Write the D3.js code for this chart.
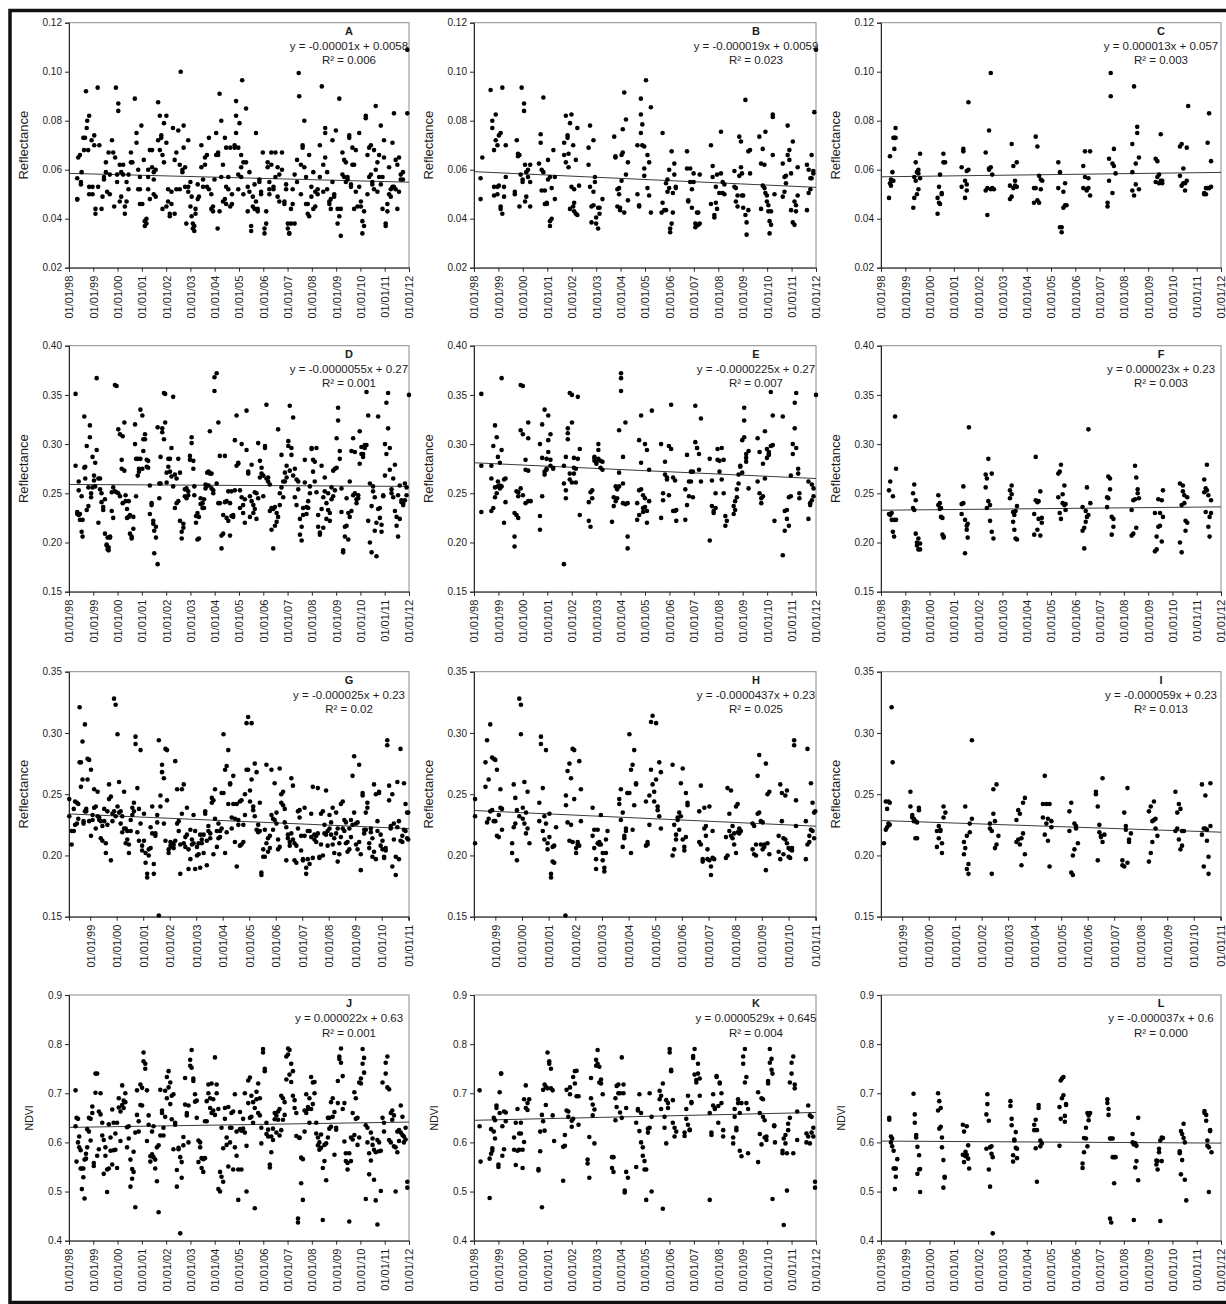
<!DOCTYPE html>
<html lang="en">
<head>
<meta charset="utf-8" />
<title>Reflectance and NDVI time series</title>
<script src="https://cdn.jsdelivr.net/npm/d3@7"></script>
<style>
body { margin: 0; background: #fff; }
svg text { font-family: "Liberation Sans", Arial, sans-serif; fill: #1c1c1c; }
</style>
</head>
<body>
<div id="chart"></div>
<script>
// ---- data: [years since 01/01/98, [values at that date]] ----
const ptsA = [[.34,[.048,.0478,.0565]],[.38,[.065]],[.45,[.066]],[.49,[.055,.054]],[.52,[.059]],[.59,[.073]],[.62,[.068]],[.66,[.073]],[.70,[.092]],[.73,[.077]],[.75,[.080]],[.79,[.068]],[.83,[.082,.053,.050]],[.93,[.072]],[.97,[.053,.050]],[1.04,[.074,.070]],[1.09,[.044,.042]],[1.18,[.0935]],[1.20,[.053]],[1.25,[.070]],[1.34,[.044]],[1.38,[.049]],[1.44,[.057,.056]],[1.52,[.063,.059]],[1.57,[.051]],[1.63,[.067]],[1.68,[.050,.058]],[1.77,[.072]],[1.82,[.067]],[1.86,[.045]],[1.90,[.065]],[1.93,[.0935]],[1.98,[.055,.058]],[2.03,[.087,.084]],[2.09,[.062,.047]],[2.15,[.059,.049]],[2.23,[.062,.058]],[2.30,[.045,.042]],[2.37,[.047,.055]],[2.45,[.052,.058]],[2.55,[.067,.063]],[2.61,[.063]],[2.71,[.089]],[2.78,[.075,.071]],[2.85,[.060,.052]],[2.92,[.057,.046,.052]],[2.98,[.078]],[3.02,[.046]],[3.08,[.064]],[3.12,[.039,.037]],[3.19,[.038,.040]],[3.26,[.057,.052,.060]],[3.33,[.068,.048]],[3.42,[.068,.061]],[3.49,[.059,.050,.056]],[3.57,[.060,.049]],[3.67,[.0875,.072]],[3.74,[.082,.068]],[3.80,[.073,.074]],[3.85,[.066,.044]],[3.91,[.079,.063]],[4.01,[.082,.071,.045]],[4.08,[.052,.047]],[4.15,[.042,.041]],[4.22,[.046,.051]],[4.28,[.077]],[4.35,[.064,.042]],[4.42,[.052,.067]],[4.50,[.076]],[4.56,[.062,.052]],[4.60,[.100]],[4.67,[.060,.059]],[4.72,[.069,.078]],[4.78,[.053,.061]],[4.83,[.038]],[4.91,[.072,.053,.051]],[5.00,[.045,.055]],[5.05,[.049,.041]],[5.10,[.038,.036]],[5.16,[.035,.037]],[5.21,[.042,.044]],[5.30,[.048,.054]],[5.35,[.049]],[5.45,[.070,.061]],[5.52,[.053,.056]],[5.60,[.065,.062]],[5.68,[.066,.053]],[5.76,[.073,.052]],[5.86,[.050,.044]],[5.93,[.043,.045]],[5.99,[.056]],[6.06,[.075,.066]],[6.12,[.036]],[6.14,[.067,.066]],[6.20,[.091,.043]],[6.27,[.080,.057]],[6.34,[.047,.062]],[6.42,[.073,.048]],[6.47,[.069,.053,.046]],[6.56,[.057,.052]],[6.64,[.069,.045]],[6.71,[.050,.046]],[6.82,[.070,.069]],[6.88,[.075,.082,.088]],[6.97,[.069,.058,.052]],[7.02,[.079]],[7.09,[.066,.061,.057]],[7.13,[.0965]],[7.18,[.050,.063]],[7.29,[.085,.063]],[7.36,[.053,.043]],[7.43,[.059,.051]],[7.50,[.037,.035]],[7.57,[.045,.049]],[7.64,[.054,.044]],[7.70,[.075,.047]],[7.77,[.043,.044]],[7.84,[.055,.056]],[7.91,[.051,.050]],[7.98,[.067]],[8.05,[.036,.034]],[8.12,[.043,.038]],[8.18,[.061,.063]],[8.25,[.052,.050,.055]],[8.33,[.067,.062]],[8.42,[.053,.052]],[8.50,[.067,.057]],[8.59,[.061,.049]],[8.66,[.058,.047]],[8.77,[.067,.060]],[8.87,[.047,.046]],[8.94,[.054,.052]],[9.01,[.036,.038]],[9.07,[.034,.034]],[9.14,[.044,.038]],[9.21,[.046,.052]],[9.29,[.038,.058]],[9.39,[.055,.064]],[9.46,[.0995]],[9.48,[.090]],[9.55,[.062,.050]],[9.62,[.069,.070]],[9.69,[.080,.061]],[9.76,[.057,.046]],[9.83,[.042,.046]],[9.89,[.041,.066]],[9.98,[.053,.049]],[10.06,[.044,.059]],[10.14,[.045,.051]],[10.24,[.052,.050]],[10.33,[.070,.057]],[10.41,[.094]],[10.47,[.062,.051]],[10.55,[.075,.077,.065]],[10.63,[.059,.052]],[10.72,[.047,.046]],[10.78,[.044,.048]],[10.85,[.072,.055]],[10.92,[.050,.049]],[10.99,[.076]],[11.06,[.044,.038]],[11.13,[.089,.041]],[11.19,[.033,.044]],[11.26,[.067,.058]],[11.33,[.057,.064]],[11.40,[.063,.055]],[11.47,[.056,.057]],[11.54,[.074,.073]],[11.61,[.053,.054]],[11.67,[.062,.069]],[11.74,[.044,.062]],[11.81,[.068,.051]],[11.88,[.045]],[11.95,[.075,.053]],[12.02,[.047,.045]],[12.08,[.039,.034]],[12.15,[.043,.037]],[12.22,[.081,.082]],[12.29,[.066,.050]],[12.36,[.069,.057]],[12.43,[.058,.070]],[12.49,[.055,.054]],[12.56,[.068,.052]],[12.63,[.086,.060]],[12.70,[.051,.063]],[12.77,[.057,.066]],[12.84,[.078,.054]],[12.91,[.044,.057]],[12.97,[.072,.065]],[13.04,[.038,.037]],[13.11,[.046,.043]],[13.18,[.061,.050]],[13.25,[.049,.052]],[13.32,[.071,.053]],[13.38,[.053,.083]],[13.45,[.064,.052]],[13.52,[.062,.044]],[13.59,[.051,.065]],[13.66,[.058,.056]],[13.75,[.059,.056]],[13.93,[.109,.083]]];

const ptsB = [[.27,[.048,.0565]],[.34,[.065]],[.68,[.0925]],[.75,[.077,.080]],[.82,[.068,.053,.0495]],[.89,[.0825,.072]],[.96,[.050,.053,.070]],[1.02,[.0535,.074]],[1.09,[.075,.045,.044]],[1.16,[.0935,.042]],[1.23,[.053,.049]],[1.30,[.070,.057]],[1.67,[.051,.050]],[1.75,[.072]],[1.80,[.0665,.0655]],[1.86,[.045,.066]],[1.91,[.058]],[1.95,[.0935]],[1.99,[.055,.056]],[2.05,[.087,.084]],[2.09,[.062,.047]],[2.14,[.059,.049]],[2.21,[.060,.057]],[2.30,[.062,.055,.045]],[2.66,[.0625]],[2.73,[.0745,.071]],[2.77,[.060,.0515]],[2.84,[.0895,.059]],[2.90,[.0515,.046]],[2.98,[.0465,.046]],[3.03,[.064,.056]],[3.11,[.039,.037,.057]],[3.18,[.040,.0525]],[3.25,[.068]],[3.31,[.048,.057]],[3.69,[.066,.071]],[3.76,[.082,.063]],[3.83,[.074,.073]],[3.87,[.0665,.061]],[3.93,[.079,.044]],[3.99,[.053,.0825]],[4.06,[.070,.045]],[4.10,[.0465,.052,.043]],[4.17,[.042,.064]],[4.23,[.0415,.077]],[4.30,[.0535]],[4.69,[.069,.062]],[4.75,[.078,.053]],[4.81,[.0385,.045]],[4.89,[.0455,.051,.072]],[4.95,[.055,.057]],[5.00,[.0405,.038]],[5.08,[.036,.0445]],[5.14,[.042,.0445]],[5.26,[.048]],[5.74,[.0735]],[5.79,[.065,.0655]],[5.87,[.052,.045]],[5.94,[.050,.0525]],[5.98,[.0435,.0445]],[6.04,[.0555,.066]],[6.09,[.0765,.067]],[6.15,[.0915,.0425]],[6.22,[.0805,.058]],[6.30,[.063,.0475]],[6.69,[.070,.050]],[6.76,[.0455,.045]],[6.83,[.0825,.075,.089]],[6.89,[.070,.0785]],[6.97,[.0695,.0575,.0605]],[7.04,[.0965]],[7.10,[.066,.0525]],[7.17,[.0495,.063]],[7.24,[.0425,.0855]],[7.68,[.0425]],[7.72,[.075,.0465]],[7.79,[.0435]],[7.86,[.0435,.0545]],[7.92,[.056,.051]],[7.99,[.0525,.060]],[8.03,[.0345,.036]],[8.09,[.0675,.038]],[8.14,[.0505,.0425]],[8.20,[.058,.0625]],[8.26,[.0525,.053]],[8.72,[.0605,.0675]],[8.77,[.0475,.047]],[8.85,[.0605,.055]],[8.92,[.0445,.052]],[8.99,[.055,.0585]],[9.06,[.038,.0365]],[9.13,[.0425,.0375]],[9.18,[.0375,.0425]],[9.24,[.038,.058]],[9.70,[.070,.046]],[9.77,[.0615,.057]],[9.84,[.0405,.0415]],[9.90,[.0465,.053]],[9.95,[.044,.058]],[10.04,[.0505]],[10.11,[.0755,.0585]],[10.18,[.0505,.055]],[10.25,[.054,.050]],[10.66,[.0595,.053]],[10.72,[.0525,.047]],[10.79,[.0495,.045]],[10.86,[.0735,.0575]],[10.93,[.0715,.061]],[10.97,[.0585,.0495]],[11.02,[.0495,.0445]],[11.11,[.0885,.0415]],[11.16,[.0335,.0385]],[11.23,[.0675,.0435]],[11.30,[.0585,.068]],[11.68,[.0735]],[11.75,[.0625,.044]],[11.82,[.0685,.0535]],[11.89,[.0525,.062]],[11.93,[.0755,.0505]],[11.99,[.0495,.047]],[12.05,[.0455,.043]],[12.10,[.039,.034]],[12.16,[.0375,.043]],[12.23,[.0815,.0825,.066]],[12.30,[.050]],[12.64,[.049,.0625]],[12.71,[.057,.051]],[12.77,[.0575,.0545]],[12.84,[.078,.066]],[12.91,[.068,.064]],[12.98,[.0585,.0435]],[13.05,[.0715,.0385]],[13.12,[.047,.0375]],[13.18,[.0455,.043]],[13.25,[.061,.0495]],[13.63,[.062,.0435]],[13.70,[.060,.0505]],[13.77,[.0565,.052]],[13.82,[.066,.0565]],[13.89,[.0595,.0585]],[13.93,[.0835]],[14.00,[.109]]];

const ptsC = [[.33,[.0485]],[.37,[.0545,.0655]],[.41,[.0535,.056]],[.47,[.059,.0555]],[.51,[.073,.0555]],[.55,[.0685,.073]],[.60,[.077,.073]],[1.33,[.0445]],[1.37,[.0485,.057]],[1.43,[.0555,.063]],[1.48,[.050,.059]],[1.54,[.0585,.052,.060]],[1.61,[.0665,.0565]],[2.33,[.042,.0485]],[2.39,[.0465,.053]],[2.43,[.058,.046]],[2.50,[.0505,.050]],[2.57,[.0665,.063]],[2.64,[.063]],[3.32,[.061,.053]],[3.39,[.0675,.0685]],[3.46,[.0555,.0485]],[3.53,[.0515,.0595,.054]],[3.60,[.060,.0875]],[4.31,[.067,.0515]],[4.38,[.0415,.0525]],[4.45,[.0605,.060,.076]],[4.52,[.061,.052,.0995]],[4.58,[.058,.0525]],[4.65,[.052]],[5.31,[.048,.0535]],[5.38,[.049,.0705]],[5.45,[.0615,.0525]],[5.52,[.0555,.0535]],[5.59,[.063,.053]],[6.30,[.0465,.0525]],[6.37,[.0735,.0525]],[6.44,[.0695,.0475]],[6.51,[.0465,.0575]],[6.58,[.052,.056]],[6.64,[.0555]],[7.30,[.0525,.063]],[7.37,[.0365,.059]],[7.44,[.0345,.0365]],[7.51,[.051,.0445]],[7.58,[.0545,.0455]],[7.64,[.0455]],[8.33,[.0615,.0525]],[8.40,[.0675,.057]],[8.47,[.0515,.052]],[8.54,[.0565,.0525]],[8.61,[.0675,.0495]],[9.33,[.0465,.045]],[9.39,[.0555,.0645]],[9.46,[.0995,.090]],[9.53,[.0505,.0625]],[9.59,[.0615,.0685]],[9.66,[.0585]],[10.35,[.0705,.0515,.059]],[10.42,[.0495,.094]],[10.49,[.0625,.054]],[10.55,[.075,.0775]],[10.62,[.065,.052]],[11.31,[.0645,.055]],[11.38,[.0635,.057]],[11.45,[.0545,.058]],[11.52,[.0555,.0745]],[11.58,[.0545,.0555]],[12.31,[.0695,.0575]],[12.38,[.0705,.0535]],[12.45,[.0605,.0545]],[12.52,[.0545,.0515]],[12.59,[.069,.0555]],[12.65,[.086]],[13.31,[.050,.0505]],[13.38,[.0525,.050]],[13.45,[.071,.0525]],[13.51,[.083,.0525]],[13.59,[.0635,.053]]];

const ptsD = [[.27,[.278,.351]],[.34,[.231,.229]],[.40,[.262,.253,.228]],[.45,[.229,.223]],[.52,[.247,.211]],[.56,[.206,.223]],[.63,[.328,.276]],[.67,[.265,.277]],[.73,[.298,.233]],[.80,[.256,.237]],[.86,[.319,.307]],[.91,[.246,.250]],[.97,[.287,.256]],[1.03,[.268,.263]],[1.08,[.257,.281]],[1.14,[.367,.294]],[1.21,[.220,.265]],[1.28,[.254,.265]],[1.34,[.250,.241]],[1.41,[.236,.233]],[1.48,[.244,.209]],[1.55,[.197,.198]],[1.59,[.193,.205]],[1.63,[.195,.192]],[1.69,[.205,.206]],[1.76,[.232,.251]],[1.82,[.225,.256]],[1.89,[.360,.252]],[1.96,[.359,.251]],[2.03,[.315,.250]],[2.10,[.310,.247]],[2.17,[.284,.275]],[2.21,[.308,.240]],[2.28,[.322,.273]],[2.33,[.242,.248]],[2.39,[.234,.225]],[2.46,[.226,.242]],[2.51,[.228,.209]],[2.58,[.206,.204]],[2.65,[.214,.226]],[2.72,[.300,.320]],[2.76,[.285,.247]],[2.83,[.268,.285]],[2.88,[.272,.275]],[2.94,[.335,.285]],[3.02,[.329,.275]],[3.06,[.293,.305]],[3.13,[.305,.310]],[3.20,[.284,.277]],[3.26,[.276,.283]],[3.33,[.258,.229]],[3.40,[.240,.238]],[3.47,[.219,.222]],[3.51,[.189,.212]],[3.58,[.205,.216]],[3.65,[.178,.317]],[3.72,[.260,.245]],[3.77,[.287,.260]],[3.84,[.312,.316]],[3.91,[.305,.352]],[3.96,[.351,.322]],[4.02,[.271,.261]],[4.09,[.277,.285]],[4.16,[.272,.285]],[4.22,[.267,.296]],[4.29,[.348,.257]],[4.36,[.269,.235]],[4.43,[.240,.265]],[4.50,[.285,.242]],[4.57,[.271,.222]],[4.64,[.211,.204]],[4.71,[.219,.215]],[4.77,[.254,.247]],[4.84,[.255,.245]],[4.91,[.252,.248]],[4.98,[.284,.288]],[5.05,[.307,.301]],[5.12,[.283,.275]],[5.16,[.257,.248]],[5.23,[.227,.220]],[5.29,[.230,.203]],[5.35,[.204,.226]],[5.42,[.245,.239]],[5.50,[.235,.240]],[5.56,[.244,.235]],[5.62,[.255,.259]],[5.69,[.258,.271]],[5.75,[.272,.258]],[5.80,[.313,.270]],[5.87,[.270,.255]],[5.94,[.253,.250]],[5.99,[.354,.368]],[6.08,[.372,.260]],[6.15,[.322,.240]],[6.21,[.240,.288]],[6.28,[.194,.207]],[6.35,[.209,.228]],[6.42,[.288,.241]],[6.49,[.242,.225]],[6.56,[.252,.222]],[6.63,[.207,.240]],[6.69,[.227,.252]],[6.76,[.226,.228]],[6.83,[.304,.253]],[6.90,[.329,.278]],[6.97,[.280,.281]],[7.04,[.235,.253]],[7.11,[.300,.246]],[7.17,[.230,.238]],[7.24,[.220,.244]],[7.31,[.334,.294]],[7.38,[.272,.270]],[7.45,[.226,.247]],[7.52,[.279,.242]],[7.59,[.238,.230]],[7.65,[.234,.251]],[7.72,[.224,.250]],[7.79,[.301,.245]],[7.86,[.283,.266]],[7.93,[.270,.276]],[8.00,[.268,.247]],[8.07,[.298,.296]],[8.13,[.340,.265]],[8.20,[.266,.262]],[8.27,[.259,.232]],[8.34,[.235,.213]],[8.41,[.234,.194]],[8.48,[.236,.217]],[8.55,[.221,.230]],[8.61,[.315,.226]],[8.68,[.250,.238]],[8.75,[.289,.256]],[8.82,[.262,.246]],[8.89,[.271,.262]],[8.96,[.266,.278]],[9.03,[.298,.303]],[9.09,[.339,.273]],[9.16,[.296,.289]],[9.23,[.327,.268]],[9.30,[.275,.246]],[9.37,[.264,.238]],[9.44,[.262,.254]],[9.51,[.208,.224]],[9.58,[.216,.202]],[9.64,[.228,.235]],[9.71,[.284,.261]],[9.78,[.229,.236]],[9.85,[.235,.242]],[9.92,[.257,.250]],[9.99,[.295,.296]],[10.05,[.284,.272]],[10.12,[.282,.262]],[10.19,[.296,.251]],[10.26,[.228,.216]],[10.33,[.208,.210]],[10.40,[.278,.234]],[10.47,[.215,.246]],[10.53,[.266,.252]],[10.60,[.224,.240]],[10.67,[.250,.233]],[10.74,[.230,.222]],[10.81,[.244,.256]],[10.88,[.273,.247]],[10.95,[.253,.275]],[11.02,[.306,.276]],[11.08,[.337,.324]],[11.15,[.285,.293]],[11.22,[.231,.255]],[11.29,[.192,.190]],[11.36,[.206,.216]],[11.43,[.217,.245]],[11.50,[.230,.203]],[11.56,[.226,.262]],[11.63,[.293,.232]],[11.70,[.306,.248]],[11.77,[.292,.250]],[11.84,[.244,.240]],[11.91,[.245,.248]],[11.97,[.313,.280]],[12.04,[.290,.297]],[12.11,[.290,.287]],[12.18,[.296,.299]],[12.25,[.353,.299]],[12.32,[.329,.222]],[12.39,[.260,.200]],[12.46,[.190,.237]],[12.52,[.257,.252]],[12.59,[.212,.246]],[12.66,[.220,.186]],[12.73,[.234,.328]],[12.80,[.225,.235]],[12.87,[.211,.218]],[12.94,[.247,.248]],[13.01,[.268,.300]],[13.07,[.342,.290]],[13.14,[.352,.316]],[13.21,[.296,.274]],[13.28,[.250,.254]],[13.35,[.246,.265]],[13.42,[.279,.232]],[13.49,[.217,.226]],[13.55,[.206,.248]],[13.62,[.258,.224]],[13.69,[.243,.241]],[13.76,[.240,.238]],[13.83,[.260,.243]],[13.90,[.248,.256]],[14.00,[.350]]];

const ptsE = [[.30,[.278,.351,.231]],[.71,[.265,.278,.232]],[.79,[.235,.298]],[.86,[.319,.256,.246]],[.93,[.307,.250]],[.98,[.287,.257,.262]],[1.06,[.255,.258,.281]],[1.13,[.367,.294,.257]],[1.23,[.220,.264]],[1.29,[.241,.265]],[1.66,[.196,.206,.230]],[1.74,[.228,.252]],[1.81,[.225,.247,.251]],[1.91,[.255,.360,.314]],[2.00,[.359,.310,.248]],[2.11,[.240,.284,.274]],[2.22,[.273,.322,.306,.242]],[2.32,[.242]],[2.70,[.213,.227,.300]],[2.79,[.320,.247,.286]],[2.89,[.272,.269,.335]],[2.97,[.285,.275,.274]],[3.04,[.329,.304,.292]],[3.13,[.310,.284,.278]],[3.24,[.276,.275]],[3.68,[.278,.260,.178]],[3.76,[.245,.253,.287]],[3.84,[.311,.316,.305]],[3.92,[.352,.270,.264]],[4.01,[.322,.350,.261]],[4.09,[.276,.286,.270]],[4.17,[.261,.275]],[4.25,[.285,.348]],[4.33,[.295,.228]],[4.70,[.241,.222]],[4.77,[.216,.251]],[4.84,[.245,.253]],[4.93,[.283,.286,.287]],[5.01,[.280,.282]],[5.09,[.294,.300,.285]],[5.18,[.276,.283]],[5.26,[.274,.282]],[5.65,[.221]],[5.72,[.246,.237]],[5.80,[.242,.257]],[5.86,[.254,.245]],[5.94,[.314,.271,.257]],[6.02,[.367,.354,.372]],[6.10,[.287,.260,.240]],[6.20,[.322,.239]],[6.29,[.206,.194,.240]],[6.68,[.240,.223]],[6.76,[.228,.253,.304]],[6.84,[.329,.254,.281]],[6.92,[.248,.235,.231]],[7.00,[.245,.300,.236]],[7.08,[.232,.220,.294]],[7.17,[.242,.274]],[7.28,[.334]],[7.66,[.300,.225]],[7.74,[.250,.243]],[7.82,[.282,.269]],[7.90,[.266,.264]],[7.98,[.248,.298]],[8.07,[.295,.340]],[8.15,[.232,.266]],[8.23,[.232,.263]],[8.28,[.222,.233]],[8.65,[.223,.254]],[8.72,[.289,.238]],[8.80,[.262,.247]],[8.88,[.262,.272]],[8.96,[.246,.272]],[9.06,[.339,.302]],[9.13,[.296,.296]],[9.21,[.290,.274]],[9.29,[.326,.262]],[9.65,[.202,.285]],[9.74,[.237,.263]],[9.81,[.232,.230]],[9.89,[.235,.250]],[9.97,[.295,.284]],[10.05,[.283,.272]],[10.14,[.264,.296]],[10.22,[.250,.284]],[10.29,[.227,.217]],[10.35,[.222]],[10.63,[.229,.237]],[10.69,[.242,.233]],[10.76,[.246,.254]],[10.83,[.260,.269]],[10.90,[.277,.278]],[10.98,[.271,.304]],[11.06,[.324,.307,.337]],[11.14,[.286,.282,.290]],[11.24,[.293,.255]],[11.61,[.306,.262]],[11.69,[.250,.292]],[11.76,[.240,.245]],[11.83,[.280,.247]],[11.91,[.313,.265]],[11.99,[.295,.286]],[12.07,[.292,.289,.290]],[12.15,[.298,.353]],[12.23,[.299,.329]],[12.30,[.222]],[12.64,[.187,.328]],[12.72,[.212,.232]],[12.81,[.224,.233]],[12.89,[.217,.246]],[12.97,[.268,.247]],[13.05,[.300,.290]],[13.13,[.342,.316]],[13.19,[.352,.296]],[13.27,[.270,.275]],[13.32,[.250,.245]],[13.69,[.262,.224]],[13.76,[.240,.238]],[13.83,[.243,.259]],[13.90,[.247,.255]],[14.00,[.350]]];

const ptsF = [[.33,[.253,.229]],[.38,[.262,.228]],[.44,[.230,.223]],[.49,[.247,.211]],[.54,[.206,.223]],[.58,[.328]],[.62,[.275,.223]],[1.32,[.250,.235]],[1.37,[.259,.233]],[1.43,[.243,.209]],[1.48,[.197,.200]],[1.54,[.204,.193]],[1.61,[.193,.199]],[2.36,[.248,.238]],[2.42,[.240,.234]],[2.47,[.226,.235]],[2.53,[.208,.225]],[2.58,[.205,.206]],[3.32,[.229,.239]],[3.39,[.257,.240]],[3.46,[.189,.223]],[3.53,[.213,.217]],[3.57,[.205,.219]],[3.62,[.317]],[4.31,[.256,.269]],[4.36,[.265,.235]],[4.42,[.285,.242]],[4.49,[.238,.222]],[4.56,[.270,.211]],[4.63,[.204]],[5.31,[.245,.253]],[5.38,[.258,.249]],[5.44,[.221,.231]],[5.49,[.228,.213]],[5.54,[.232,.204]],[5.60,[.237,.203]],[6.31,[.208,.229]],[6.37,[.287,.243]],[6.44,[.241,.213]],[6.49,[.224,.242]],[6.56,[.252,.207]],[6.62,[.225,.220]],[7.30,[.270,.246]],[7.36,[.230,.272]],[7.41,[.279,.224]],[7.48,[.249,.240]],[7.55,[.258,.238]],[7.60,[.233,.239]],[8.30,[.212,.236]],[8.37,[.194,.215]],[8.43,[.232,.221]],[8.48,[.226,.256]],[8.54,[.315,.228]],[8.62,[.240]],[9.31,[.246,.236]],[9.36,[.267,.245]],[9.43,[.265,.254]],[9.50,[.226,.208]],[9.57,[.224,.216]],[10.32,[.207,.233]],[10.39,[.209,.243]],[10.46,[.278,.244]],[10.51,[.215,.266]],[10.57,[.254,.250]],[10.62,[.245]],[11.28,[.230,.191]],[11.35,[.193,.206]],[11.42,[.216,.244]],[11.49,[.230,.217]],[11.56,[.201,.243]],[11.61,[.226,.253]],[12.31,[.260,.200]],[12.38,[.190,.238]],[12.43,[.258,.252]],[12.49,[.240,.248]],[12.54,[.222,.212]],[12.61,[.220,.246]],[13.31,[.264,.251]],[13.37,[.255,.231]],[13.42,[.279,.253]],[13.48,[.248,.216]],[13.53,[.226,.206]],[13.59,[.243,.230]]];

const ptsG = [[.21,[.246,.232]],[.30,[.209,.220]],[.38,[.220,.238]],[.43,[.244,.225]],[.50,[.243,.226]],[.55,[.242,.230]],[.60,[.321,.276]],[.65,[.276,.256]],[.71,[.293,.262]],[.75,[.228,.226]],[.80,[.307,.236]],[.85,[.236,.238]],[.90,[.279,.262]],[.96,[.278,.228]],[1.03,[.270,.216]],[1.09,[.229,.233]],[1.15,[.239,.254]],[1.21,[.240,.222]],[1.28,[.252,.232]],[1.34,[.229,.231]],[1.40,[.228,.214]],[1.46,[.212,.224]],[1.53,[.238,.228]],[1.59,[.202,.210]],[1.65,[.225,.236]],[1.71,[.258,.246]],[1.78,[.248,.196]],[1.84,[.228,.234]],[1.90,[.328,.236]],[1.96,[.323,.232]],[2.03,[.299,.240]],[2.09,[.260,.235]],[2.15,[.226,.236]],[2.21,[.219,.232]],[2.28,[.252,.222]],[2.34,[.210,.222]],[2.40,[.213,.220]],[2.46,[.202,.209]],[2.53,[.220,.229]],[2.59,[.239,.233]],[2.65,[.243,.236]],[2.71,[.297,.291]],[2.78,[.255,.219]],[2.84,[.238,.212]],[2.90,[.286,.226]],[2.96,[.204,.208]],[3.03,[.234,.212]],[3.09,[.194,.202]],[3.15,[.182,.185]],[3.21,[.205,.200]],[3.28,[.206,.223]],[3.34,[.240,.218]],[3.40,[.185,.193]],[3.46,[.216,.218]],[3.53,[.227,.233]],[3.59,[.294,.151]],[3.65,[.249,.240]],[3.71,[.268,.274]],[3.78,[.263,.226]],[3.84,[.287,.212]],[3.90,[.286,.245]],[3.96,[.202,.205]],[4.03,[.211,.208]],[4.09,[.207,.210]],[4.15,[.206,.209]],[4.21,[.277,.212]],[4.28,[.254,.226]],[4.34,[.220,.228]],[4.40,[.185,.209]],[4.46,[.254,.234]],[4.53,[.258,.210]],[4.59,[.207,.215]],[4.65,[.217,.239]],[4.71,[.205,.189]],[4.78,[.221,.197]],[4.84,[.213,.209]],[4.90,[.210,.233]],[4.96,[.220,.189]],[5.03,[.207,.200]],[5.09,[.201,.210]],[5.15,[.190,.217]],[5.21,[.210,.213]],[5.28,[.217,.202]],[5.34,[.234,.236]],[5.40,[.212,.192]],[5.46,[.224,.220]],[5.53,[.218,.214]],[5.59,[.247,.243]],[5.65,[.201,.245]],[5.71,[.254,.230]],[5.78,[.220,.207]],[5.84,[.226,.214]],[5.90,[.215,.220]],[5.96,[.222,.251]],[6.03,[.299,.251]],[6.09,[.270,.202]],[6.15,[.273,.219]],[6.21,[.286,.242]],[6.28,[.258,.259]],[6.34,[.231,.222]],[6.40,[.265,.242]],[6.46,[.211,.230]],[6.53,[.242,.191]],[6.59,[.229,.225]],[6.65,[.208,.244]],[6.71,[.209,.245]],[6.78,[.211,.225]],[6.84,[.250,.233]],[6.90,[.270,.308]],[6.96,[.313,.270]],[7.03,[.253,.244]],[7.09,[.308,.262]],[7.15,[.237,.240]],[7.21,[.275,.232]],[7.28,[.268,.221]],[7.34,[.219,.225]],[7.40,[.243,.220]],[7.46,[.186,.184]],[7.53,[.199,.205]],[7.59,[.199,.221]],[7.65,[.274,.210]],[7.71,[.203,.214]],[7.78,[.216,.206]],[7.84,[.270,.233]],[7.90,[.230,.221]],[7.96,[.259,.229]],[8.03,[.235,.226]],[8.09,[.213,.205]],[8.15,[.271,.207]],[8.21,[.243,.250]],[8.28,[.252,.241]],[8.34,[.238,.227]],[8.40,[.196,.223]],[8.46,[.217,.214]],[8.53,[.211,.208]],[8.59,[.263,.218]],[8.65,[.257,.213]],[8.71,[.196,.210]],[8.78,[.194,.208]],[8.84,[.236,.222]],[8.90,[.237,.231]],[8.96,[.204,.216]],[9.03,[.196,.197]],[9.09,[.239,.216]],[9.15,[.185,.190]],[9.21,[.220,.197]],[9.28,[.220,.193]],[9.34,[.234,.215]],[9.40,[.256,.198]],[9.46,[.217,.213]],[9.53,[.211,.216]],[9.59,[.255,.218]],[9.65,[.199,.198]],[9.71,[.234,.209]],[9.78,[.236,.200]],[9.84,[.218,.225]],[9.90,[.253,.217]],[9.96,[.208,.220]],[10.03,[.233,.222]],[10.09,[.217,.227]],[10.15,[.239,.209]],[10.21,[.202,.214]],[10.28,[.235,.218]],[10.34,[.195,.222]],[10.40,[.210,.201]],[10.46,[.242,.215]],[10.53,[.244,.222]],[10.59,[.229,.220]],[10.65,[.210,.227]],[10.71,[.203,.211]],[10.78,[.222,.205]],[10.84,[.229,.215]],[10.90,[.265,.225]],[10.96,[.281,.235]],[11.03,[.226,.209]],[11.09,[.227,.205]],[11.15,[.274,.211]],[11.21,[.201,.188]],[11.28,[.251,.249]],[11.34,[.218,.221]],[11.40,[.235,.221]],[11.46,[.243,.239]],[11.53,[.206,.210]],[11.59,[.222,.219]],[11.65,[.199,.214]],[11.71,[.258,.203]],[11.78,[.250,.197]],[11.84,[.228,.220]],[11.90,[.252,.251]],[11.96,[.217,.208]],[12.03,[.212,.205]],[12.09,[.199,.198]],[12.15,[.206,.204]],[12.21,[.294,.290]],[12.28,[.245,.257]],[12.34,[.224,.222]],[12.40,[.191,.250]],[12.46,[.213,.226]],[12.53,[.184,.199]],[12.59,[.260,.223]],[12.65,[.228,.197]],[12.71,[.287,.212]],[12.78,[.211,.216]],[12.84,[.259,.221]],[12.90,[.242,.220]],[12.96,[.235,.214]],[13.00,[.235,.213]]];

const ptsH = [[.24,[.246,.232,.210]],[.63,[.256,.276]],[.69,[.294,.227]],[.75,[.262,.230]],[.81,[.307,.236]],[.88,[.280,.237]],[.94,[.279,.228]],[1.00,[.278,.228]],[1.06,[.270,.216]],[1.13,[.233,.215]],[1.19,[.239,.254]],[1.25,[.238,.221]],[1.63,[.202,.210]],[1.69,[.258,.223]],[1.75,[.247,.226]],[1.81,[.196,.237]],[1.90,[.328,.232]],[1.96,[.323,.299]],[2.03,[.239,.230]],[2.09,[.260,.226]],[2.15,[.218,.235]],[2.21,[.252,.222]],[2.28,[.210]],[2.65,[.243,.228]],[2.71,[.297,.291]],[2.78,[.255,.220]],[2.84,[.232,.213]],[2.90,[.286,.226]],[2.96,[.205,.210]],[3.03,[.234,.215]],[3.09,[.185,.182]],[3.15,[.195,.207]],[3.21,[.208,.194]],[3.28,[.223]],[3.63,[.151]],[3.65,[.249,.241]],[3.71,[.269,.227]],[3.78,[.275,.212]],[3.84,[.263,.225]],[3.90,[.287,.211]],[3.96,[.286,.246]],[4.03,[.202,.206]],[4.09,[.211,.209]],[4.15,[.277,.208]],[4.21,[.254,.228]],[4.65,[.239,.216]],[4.71,[.221,.206]],[4.78,[.197,.189]],[4.84,[.210,.221]],[4.90,[.209,.211]],[4.96,[.233,.209]],[5.03,[.202,.196]],[5.09,[.190,.187]],[5.15,[.202,.213]],[5.21,[.220]],[5.65,[.246,.242]],[5.71,[.254,.229]],[5.78,[.235,.207]],[5.84,[.216,.214]],[5.90,[.220,.222]],[5.96,[.251,.251]],[6.03,[.299,.251]],[6.09,[.270,.202]],[6.15,[.274,.221]],[6.21,[.286,.241]],[6.28,[.258,.259]],[6.65,[.244,.208]],[6.71,[.211,.209]],[6.78,[.249,.225]],[6.84,[.270,.309]],[6.90,[.314,.258]],[6.96,[.252,.244]],[7.03,[.308,.262]],[7.09,[.237,.240]],[7.15,[.276,.232]],[7.21,[.268,.222]],[7.65,[.274,.200]],[7.71,[.205,.225]],[7.78,[.217,.213]],[7.84,[.231,.229]],[7.90,[.235,.221]],[7.96,[.259,.232]],[8.03,[.271,.213]],[8.09,[.204,.207]],[8.15,[.251,.215]],[8.21,[.241,.243]],[8.65,[.236,.211]],[8.71,[.257,.209]],[8.78,[.197,.195]],[8.84,[.239,.222]],[8.90,[.224,.216]],[8.96,[.205,.197]],[9.03,[.240,.196]],[9.09,[.184,.191]],[9.15,[.220,.198]],[9.21,[.197]],[9.65,[.215,.198]],[9.71,[.255,.200]],[9.78,[.234,.220]],[9.84,[.253,.216]],[9.90,[.214,.224]],[9.96,[.209,.218]],[10.03,[.240,.202]],[10.09,[.242,.219]],[10.15,[.222,.218]],[10.21,[.220]],[10.65,[.226,.205]],[10.71,[.224,.201]],[10.78,[.209,.200]],[10.84,[.265,.234]],[10.90,[.282,.235]],[10.96,[.228,.209]],[11.03,[.227,.205]],[11.09,[.209,.207]],[11.15,[.275,.188]],[11.21,[.250,.210]],[11.28,[.252,.201]],[11.63,[.216,.203]],[11.69,[.258,.197]],[11.75,[.251,.228]],[11.81,[.214,.201]],[11.88,[.249,.213]],[11.94,[.253,.210]],[12.00,[.206,.199]],[12.06,[.205,.198]],[12.13,[.206,.204]],[12.21,[.294,.290]],[12.28,[.245,.224]],[12.65,[.228,.197]],[12.71,[.287,.209]],[12.78,[.211,.216]],[12.84,[.259,.221]],[12.90,[.243,.220]],[12.96,[.235,.214]],[13.00,[.236]]];

const ptsI = [[.31,[.210]],[.38,[.221,.244]],[.43,[.223,.238]],[.48,[.244,.226]],[.53,[.243,.225]],[.60,[.321]],[.64,[.276]],[1.31,[.240,.252]],[1.38,[.233,.231]],[1.44,[.230,.228]],[1.50,[.214,.228]],[1.56,[.214,.227]],[1.63,[.237,.239]],[2.31,[.207,.220]],[2.38,[.224,.214]],[2.44,[.220,.221]],[2.50,[.202,.210]],[2.56,[.231,.240]],[2.63,[.235]],[3.33,[.201,.211]],[3.38,[.206,.240]],[3.44,[.189,.216]],[3.50,[.185,.193]],[3.55,[.219,.226]],[3.63,[.294,.230]],[4.31,[.226,.222]],[4.38,[.220,.185]],[4.44,[.234,.254]],[4.50,[.228,.206]],[4.56,[.258,.209]],[4.63,[.216]],[5.31,[.229,.211]],[5.38,[.237,.213]],[5.44,[.234,.209]],[5.50,[.214,.192]],[5.56,[.218,.243]],[5.63,[.247,.201]],[6.31,[.231,.242]],[6.38,[.217,.265]],[6.44,[.226,.242]],[6.50,[.212,.230]],[6.56,[.242,.191]],[6.63,[.228,.223]],[7.31,[.236,.220]],[7.38,[.243,.186]],[7.44,[.184,.200]],[7.50,[.205,.226]],[7.56,[.224,.222]],[7.63,[.210]],[8.31,[.250,.252]],[8.38,[.196,.240]],[8.44,[.225,.219]],[8.50,[.216,.215]],[8.56,[.263,.211]],[8.63,[.217]],[9.31,[.196,.192]],[9.38,[.191,.235]],[9.44,[.221,.224]],[9.50,[.255,.194]],[9.56,[.211,.213]],[9.63,[.218]],[10.31,[.195,.236]],[10.38,[.202,.240]],[10.44,[.211,.228]],[10.50,[.229,.244]],[10.56,[.230,.222]],[10.63,[.216]],[11.31,[.252,.220]],[11.38,[.222,.235]],[11.44,[.242,.213]],[11.50,[.205,.238]],[11.56,[.208,.220]],[11.63,[.220]],[12.31,[.258,.217]],[12.38,[.191,.222]],[12.44,[.249,.222]],[12.50,[.212,.221]],[12.56,[.199,.185]],[12.63,[.259,.224]]];

const ptsJ = [[.27,[.706,.633]],[.31,[.561,.650]],[.37,[.648,.600]],[.42,[.612,.590]],[.48,[.584,.547]],[.53,[.547,.505]],[.59,[.529,.547]],[.64,[.486,.565]],[.70,[.567,.577]],[.75,[.627,.590]],[.82,[.650,.622]],[.89,[.648,.604]],[.96,[.673,.660]],[1.02,[.552,.558]],[1.09,[.740,.701]],[1.16,[.740,.573]],[1.23,[.663,.586]],[1.30,[.700,.657]],[1.37,[.640,.614]],[1.43,[.536,.605]],[1.50,[.590,.573]],[1.57,[.545,.499]],[1.64,[.547,.637]],[1.71,[.583,.610]],[1.78,[.555,.667]],[1.84,[.640,.584]],[1.91,[.585,.618]],[1.98,[.548,.640]],[2.05,[.690,.671]],[2.12,[.663,.603]],[2.19,[.716,.676]],[2.25,[.670,.685]],[2.32,[.700,.682]],[2.39,[.631,.590]],[2.46,[.633,.608]],[2.53,[.565,.510]],[2.60,[.526,.546]],[2.66,[.540,.581]],[2.73,[.468,.620]],[2.80,[.656,.706]],[2.87,[.643,.622]],[2.94,[.676,.718]],[3.01,[.711,.675]],[3.07,[.783,.765]],[3.14,[.760,.750]],[3.21,[.706,.603]],[3.28,[.655,.636]],[3.35,[.561,.572]],[3.42,[.622,.576]],[3.48,[.633,.570]],[3.55,[.547,.565]],[3.62,[.590,.521]],[3.69,[.458,.594]],[3.76,[.707,.614]],[3.83,[.665,.660]],[3.89,[.630,.614]],[3.96,[.705,.652]],[4.03,[.733,.690]],[4.10,[.745,.712]],[4.17,[.722,.678]],[4.23,[.695,.647]],[4.30,[.586,.698]],[4.37,[.640,.636]],[4.44,[.544,.510]],[4.51,[.586,.589]],[4.58,[.415,.570]],[4.64,[.560,.528]],[4.71,[.611,.594]],[4.78,[.731,.677]],[4.85,[.655,.660]],[4.92,[.600,.675]],[4.99,[.756,.768]],[5.05,[.788,.752]],[5.12,[.725,.730]],[5.19,[.698,.683]],[5.26,[.650,.685]],[5.33,[.560,.604]],[5.40,[.590,.600]],[5.46,[.568,.548]],[5.53,[.540,.566]],[5.60,[.568,.643]],[5.67,[.684,.643]],[5.74,[.700,.718]],[5.81,[.690,.670]],[5.87,[.660,.720]],[5.94,[.688,.665]],[6.01,[.656,.773]],[6.08,[.700,.718]],[6.15,[.668,.505]],[6.22,[.500,.540]],[6.28,[.530,.630]],[6.35,[.520,.588]],[6.42,[.648,.670]],[6.49,[.595,.610]],[6.56,[.672,.551]],[6.63,[.600,.630]],[6.69,[.630,.660]],[6.76,[.545,.663]],[6.83,[.698,.590]],[6.90,[.573,.622]],[6.97,[.545,.483]],[7.04,[.662,.627]],[7.10,[.545,.624]],[7.17,[.628,.648]],[7.24,[.700,.620]],[7.31,[.500,.593]],[7.38,[.726,.680]],[7.45,[.732,.650]],[7.51,[.652,.695]],[7.58,[.640,.682]],[7.65,[.466,.670]],[7.72,[.703,.688]],[7.79,[.720,.660]],[7.86,[.690,.655]],[7.92,[.598,.630]],[7.99,[.790,.783]],[8.06,[.750,.745]],[8.13,[.640,.617]],[8.20,[.612,.626]],[8.27,[.555,.549]],[8.33,[.612,.580]],[8.40,[.605,.628]],[8.47,[.660,.647]],[8.54,[.655,.620]],[8.61,[.646,.663]],[8.67,[.668,.614]],[8.74,[.695,.625]],[8.81,[.690,.646]],[8.88,[.682,.656]],[8.95,[.775,.728]],[9.02,[.791,.779]],[9.08,[.788,.738]],[9.15,[.760,.723]],[9.22,[.745,.695]],[9.29,[.686,.670]],[9.36,[.660,.613]],[9.43,[.445,.437]],[9.49,[.610,.609]],[9.56,[.569,.517]],[9.63,[.566,.483]],[9.70,[.665,.622]],[9.77,[.660,.698]],[9.84,[.668,.672]],[9.90,[.690,.640]],[9.97,[.733,.668]],[10.04,[.722,.678]],[10.11,[.700,.723]],[10.18,[.640,.618]],[10.25,[.610,.594]],[10.31,[.600,.585]],[10.38,[.616,.589]],[10.45,[.548,.442]],[10.52,[.562,.595]],[10.59,[.523,.598]],[10.66,[.650,.610]],[10.72,[.650,.628]],[10.79,[.632,.682]],[10.86,[.690,.652]],[10.93,[.662,.575]],[11.00,[.630,.626]],[11.07,[.680,.725]],[11.13,[.775,.770]],[11.20,[.791,.762]],[11.27,[.735,.668]],[11.34,[.680,.602]],[11.40,[.578,.562]],[11.47,[.545,.558]],[11.54,[.439,.578]],[11.61,[.610,.562]],[11.68,[.660,.606]],[11.75,[.702,.615]],[11.81,[.690,.648]],[11.88,[.595,.650]],[11.95,[.610,.722]],[12.02,[.730,.720]],[12.09,[.790,.760]],[12.15,[.772,.742]],[12.22,[.485,.635]],[12.29,[.630,.600]],[12.36,[.578,.535]],[12.43,[.620,.563]],[12.50,[.608,.595]],[12.56,[.585,.524]],[12.63,[.482,.580]],[12.70,[.433,.605]],[12.77,[.600,.582]],[12.84,[.501,.583]],[12.91,[.722,.650]],[12.97,[.640,.622]],[13.04,[.762,.740]],[13.11,[.775,.712]],[13.18,[.708,.605]],[13.25,[.660,.600]],[13.31,[.665,.646]],[13.38,[.655,.592]],[13.45,[.500,.590]],[13.52,[.622,.580]],[13.59,[.625,.603]],[13.66,[.675,.620]],[13.73,[.652,.615]],[13.79,[.600,.612]],[13.86,[.630,.606]],[13.93,[.520,.508]]];

const ptsK = [[.23,[.706,.633]],[.27,[.561]],[.64,[.487,.567]],[.70,[.627,.577]],[.75,[.588,.583]],[.81,[.650,.622]],[.86,[.645,.608]],[.92,[.675,.670]],[1.00,[.555,.550]],[1.05,[.702,.660]],[1.11,[.740,.740]],[1.16,[.573,.633]],[1.23,[.663,.586]],[1.30,[.643,.661]],[1.64,[.610,.585]],[1.71,[.640,.554]],[1.78,[.668,.583]],[1.85,[.618,.585]],[1.92,[.640,.618]],[1.99,[.548,.585]],[2.05,[.688,.601]],[2.12,[.670,.716]],[2.19,[.666,.680]],[2.26,[.688]],[2.64,[.546,.543]],[2.71,[.582,.622]],[2.78,[.468,.656]],[2.83,[.707,.643]],[2.89,[.624,.718]],[2.94,[.676,.713]],[3.01,[.783,.710]],[3.08,[.765,.760]],[3.15,[.750,.710]],[3.22,[.706,.655]],[3.28,[.603]],[3.65,[.522,.591]],[3.72,[.593,.615]],[3.79,[.707,.665]],[3.86,[.663,.652]],[3.93,[.698,.712]],[4.00,[.632,.644]],[4.06,[.733,.648]],[4.13,[.745,.720]],[4.20,[.746,.694]],[4.28,[.636,.694]],[4.65,[.557,.565]],[4.72,[.528,.611]],[4.79,[.731,.690]],[4.86,[.677,.655]],[4.93,[.598,.667]],[5.00,[.756,.768]],[5.06,[.788,.760]],[5.13,[.754,.722]],[5.20,[.728,.720]],[5.27,[.698]],[5.65,[.570,.548]],[5.71,[.570,.540]],[5.79,[.645,.690]],[5.84,[.715,.672]],[5.91,[.718,.700]],[5.98,[.661,.700]],[6.05,[.650,.773]],[6.12,[.700,.718]],[6.17,[.502,.498]],[6.23,[.670,.540]],[6.30,[.528]],[6.64,[.550,.640]],[6.71,[.665,.668]],[6.77,[.698,.623]],[6.84,[.660,.600]],[6.91,[.573,.590]],[6.98,[.562,.545]],[7.05,[.545,.483]],[7.12,[.628,.620]],[7.19,[.700,.630]],[7.27,[.500,.652]],[7.60,[.705,.688]],[7.66,[.668,.695]],[7.73,[.720,.465]],[7.80,[.652,.630]],[7.87,[.686,.598]],[7.94,[.680,.670]],[8.01,[.790,.783]],[8.07,[.748,.745]],[8.14,[.640,.686]],[8.21,[.612,.630]],[8.28,[.622]],[8.62,[.613,.620]],[8.69,[.668,.648]],[8.76,[.695,.636]],[8.83,[.625,.626]],[8.90,[.680,.682]],[8.97,[.776,.772]],[9.03,[.790,.738]],[9.10,[.727,.722]],[9.17,[.760,.740]],[9.24,[.730,.695]],[9.65,[.483,.660]],[9.72,[.620,.615]],[9.79,[.698,.675]],[9.86,[.670,.668]],[9.93,[.735,.733]],[10.00,[.674,.640]],[10.06,[.720,.722]],[10.13,[.700,.680]],[10.20,[.625,.612]],[10.61,[.598,.610]],[10.67,[.668,.652]],[10.74,[.630,.625]],[10.81,[.688,.680]],[10.88,[.660,.583]],[10.95,[.680,.572]],[11.02,[.775,.760]],[11.09,[.790,.722]],[11.15,[.733,.680]],[11.22,[.668,.578]],[11.63,[.560,.702]],[11.70,[.660,.617]],[11.77,[.690,.596]],[11.83,[.652,.688]],[11.90,[.645,.610]],[11.97,[.612,.605]],[12.04,[.725,.720]],[12.11,[.790,.762]],[12.18,[.770,.748]],[12.22,[.485,.740]],[12.29,[.635,.633]],[12.32,[.600]],[12.63,[.583,.578]],[12.68,[.432,.608]],[12.75,[.615,.598]],[12.81,[.502,.578]],[12.86,[.625,.638]],[12.93,[.722,.650]],[13.00,[.762,.740]],[13.07,[.775,.578]],[13.13,[.718,.710]],[13.23,[.663,.605]],[13.61,[.600,.618]],[13.68,[.675,.612]],[13.75,[.655,.598]],[13.82,[.652,.620]],[13.89,[.630,.612]],[13.96,[.520,.508]]];

const ptsL = [[.34,[.650,.646]],[.41,[.612,.600]],[.46,[.608,.592]],[.52,[.583,.547]],[.57,[.505,.547]],[.61,[.530,.547]],[.67,[.566]],[1.34,[.699]],[1.39,[.657,.640]],[1.45,[.615,.610]],[1.50,[.536,.591]],[1.57,[.574,.545]],[1.61,[.499,.546]],[2.35,[.700,.665]],[2.40,[.684,.628]],[2.46,[.670,.632]],[2.51,[.590,.610]],[2.57,[.564,.508]],[2.62,[.528,.530]],[3.37,[.636,.575]],[3.42,[.560,.622]],[3.48,[.581,.572]],[3.53,[.633,.575]],[3.59,[.594,.567]],[3.63,[.547]],[4.34,[.657,.587]],[4.38,[.698,.678]],[4.44,[.644,.545]],[4.49,[.510,.590]],[4.55,[.577,.592]],[4.60,[.415,.570]],[5.33,[.674,.684]],[5.38,[.648,.635]],[5.44,[.561,.574]],[5.49,[.604,.606]],[5.55,[.589,.621]],[5.60,[.587,.568]],[6.31,[.636,.625]],[6.37,[.646,.588]],[6.42,[.520,.625]],[6.49,[.670,.676]],[6.56,[.592,.604]],[6.62,[.598]],[7.35,[.593,.672]],[7.40,[.726,.648]],[7.45,[.730,.690]],[7.51,[.733,.696]],[7.57,[.654,.642]],[7.62,[.676,.678]],[8.30,[.548,.557]],[8.36,[.580,.609]],[8.44,[.608,.630]],[8.50,[.592,.660]],[8.55,[.645,.655]],[8.61,[.660]],[9.32,[.680,.688]],[9.37,[.668,.656]],[9.43,[.608,.445]],[9.48,[.608,.437]],[9.54,[.570,.608]],[9.60,[.517,.570]],[9.66,[.570]],[10.36,[.600,.617]],[10.41,[.596,.442]],[10.47,[.549,.598]],[10.52,[.562,.593]],[10.59,[.523,.650]],[11.34,[.563,.555]],[11.39,[.545,.562]],[11.45,[.580,.587]],[11.50,[.604,.440]],[11.56,[.610,.562]],[11.61,[.609]],[12.30,[.582,.578]],[12.35,[.535,.623]],[12.40,[.564,.617]],[12.46,[.609,.638]],[12.51,[.600,.524]],[12.57,[.482]],[13.32,[.664,.660]],[13.39,[.644,.656]],[13.44,[.593,.604]],[13.50,[.499,.590]],[13.55,[.623,.625]],[13.61,[.580]]];

// panel labels, fitted-line text and fitted-line values at the two ends of the x axis
const letters = ["A","B","C","D","E","F","G","H","I","J","K","L"];
const equations = ["y = -0.00001x + 0.0058","y = -0.000019x + 0.0059","y = 0.000013x + 0.057",
  "y = -0.0000055x + 0.27","y = -0.0000225x + 0.27","y = 0.000023x + 0.23",
  "y = -0.000025x + 0.23","y = -0.0000437x + 0.23","y = -0.000059x + 0.23",
  "y = 0.000022x + 0.63","y = 0.0000529x + 0.645","y = -0.000037x + 0.6"];
const rSquared = ["0.006","0.023","0.003","0.001","0.007","0.003","0.02","0.025","0.013","0.001","0.004","0.000"];
const trendEnds = [[.0585,.0549],[.0592,.0528],[.0571,.0589],[.259,.257],[.281,.265],[.2328,.2362],
  [.2339,.2219],[.2367,.2239],[.2285,.219],[.6306,.6414],[.645,.661],[.6027,.5986]];
const allPoints = [ptsA,ptsB,ptsC,ptsD,ptsE,ptsF,ptsG,ptsH,ptsI,ptsJ,ptsK,ptsL];

// one entry per row of panels
const rowYDomain = [[0.02,0.12],[0.15,0.40],[0.15,0.35],[0.4,0.9]];
const rowYTicks = [[0.02,0.04,0.06,0.08,0.10,0.12],[0.15,0.20,0.25,0.30,0.35,0.40],[0.15,0.20,0.25,0.30,0.35],[0.4,0.5,0.6,0.7,0.8,0.9]];
const rowYFormat = [".2f",".2f",".2f",".1f"];
const rowYLabel = ["Reflectance","Reflectance","Reflectance","NDVI"];
const rowXDomain = [[1998,2012],[1998,2012],[1998.2,2011.03],[1998,2012]];
const rowXTicks = [d3.range(1998,2013),d3.range(1998,2013),d3.range(1999,2012),d3.range(1998,2013)];

// ---- layout ----
const W = 1226, H = 1304;
const colX = [[69,409],[474,816],[881,1221]];
const rowY = [[22.7,267.7],[345.7,591.7],[671.7,916.7],[995,1240.7]];

const svg = d3.select("#chart").append("svg")
  .attr("width", W).attr("height", H);

svg.append("rect").attr("width", W).attr("height", H).attr("fill", "#fff");

allPoints.forEach(function(pts, i) {
  const row = Math.floor(i / 3), col = i % 3;
  const [x0, x1] = colX[col], [y0, y1] = rowY[row];
  const x = d3.scaleLinear().domain(rowXDomain[row]).range([x0, x1]);
  const y = d3.scaleLinear().domain(rowYDomain[row]).range([y1, y0]);
  const g = svg.append("g");

  // plot box
  g.append("rect")
    .attr("x", x0).attr("y", y0).attr("width", x1 - x0).attr("height", y1 - y0)
    .attr("fill", "none").attr("stroke", "#8a8a8a").attr("stroke-width", 1);

  // y axis
  const ya = g.append("g").attr("transform", "translate(" + x0 + ",0)")
    .call(d3.axisLeft(y).tickValues(rowYTicks[row]).tickFormat(d3.format(rowYFormat[row])).tickSize(4).tickPadding(3));
  ya.selectAll("text").style("font-size", "10px");

  // x axis, rotated date labels
  const xa = g.append("g").attr("transform", "translate(0," + y1 + ")")
    .call(d3.axisBottom(x).tickValues(rowXTicks[row])
      .tickFormat(function(d) { return "01/01/" + String(d % 100).padStart(2, "0"); })
      .tickSize(4));
  xa.selectAll("text")
    .attr("transform", "rotate(-90)")
    .attr("x", -8).attr("y", 0).attr("dy", "0.35em")
    .style("text-anchor", "end")
    .style("font-size", "11px");
  g.selectAll(".domain").attr("stroke", "#2a2a2a");
  g.selectAll(".tick line").attr("stroke", "#2a2a2a");

  // axis title
  const isNdvi = rowYLabel[row] === "NDVI";
  g.append("text")
    .attr("transform", "translate(" + (x0 - (isNdvi ? 40 : 46)) + "," + ((y0 + y1) / 2) + ") rotate(-90)")
    .attr("text-anchor", "middle").attr("dy", "0.35em")
    .style("font-size", isNdvi ? "10.5px" : "13px")
    .text(rowYLabel[row]);

  // trend line
  const xd = x.domain();
  g.append("path")
    .datum([[xd[0], trendEnds[i][0]], [xd[1], trendEnds[i][1]]])
    .attr("fill", "none").attr("stroke", "#3a3a3a").attr("stroke-width", 1)
    .attr("d", d3.line().x(function(d) { return x(d[0]); }).y(function(d) { return y(d[1]); }));

  // points
  const flat = pts.flatMap(function(p) {
    return p[1].map(function(v) { return { t: 1998 + p[0], v: v }; });
  });
  g.append("g").selectAll("circle")
    .data(flat).enter().append("circle")
    .attr("cx", function(d) { return x(d.t); })
    .attr("cy", function(d) { return y(d.v); })
    .attr("r", 2.3)
    .attr("fill", "#000");

  // panel letter, equation, R2
  const cx = x1 - 60;
  g.append("text").attr("x", cx).attr("y", y0 + 8.5).attr("dy", "0.35em")
    .attr("text-anchor", "middle").style("font-size", "11px").style("font-weight", "bold")
    .text(letters[i]);
  g.append("text").attr("x", cx).attr("y", y0 + 23).attr("dy", "0.35em")
    .attr("text-anchor", "middle").style("font-size", "11.5px")
    .text(equations[i]);
  g.append("text").attr("x", cx).attr("y", y0 + 37.5).attr("dy", "0.35em")
    .attr("text-anchor", "middle").style("font-size", "11.5px")
    .text("R\u00B2 = " + rSquared[i]);
});

// outer frame (right edge runs off the picture, as in the source figure)
svg.append("rect")
  .attr("x", 10).attr("y", 10.5).attr("width", 1220).attr("height", 1292)
  .attr("fill", "none").attr("stroke", "#111").attr("stroke-width", 3.5);
</script>
</body>
</html>
